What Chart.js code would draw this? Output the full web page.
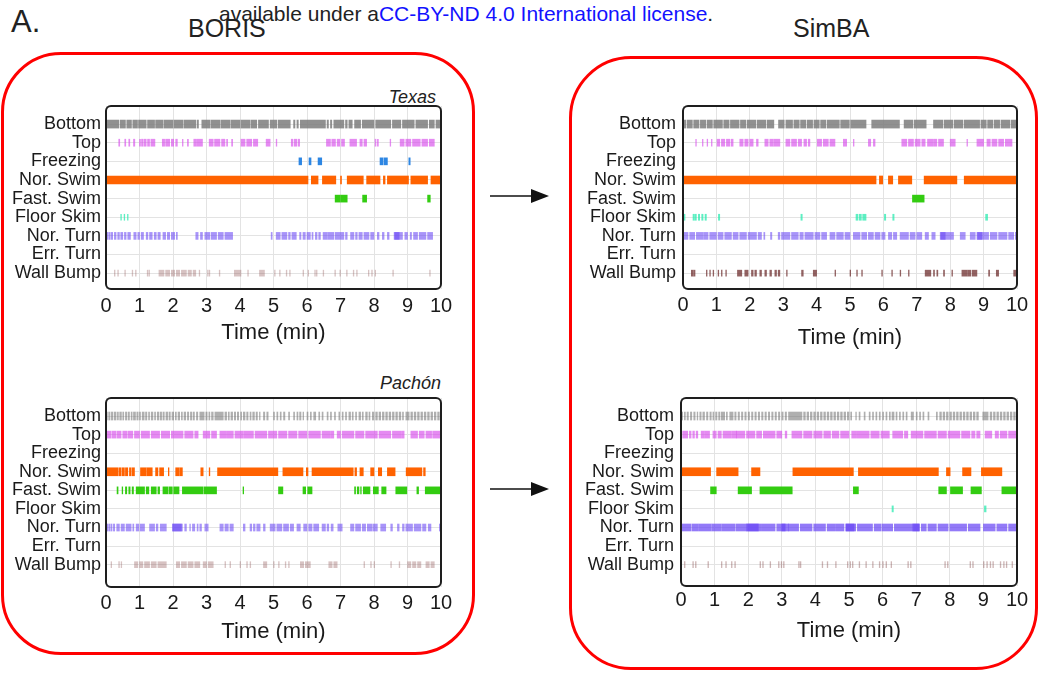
<!DOCTYPE html>
<html lang="en">
<head>
<meta charset="UTF-8">
<title>BORIS vs SimBA ethograms</title>
<script src="https://cdn.jsdelivr.net/npm/chart.js"></script>
<style>
  body { margin: 0; background: #fff; font-family: "Liberation Sans", Arial, sans-serif; color: #222; }
  #page { position: relative; width: 1039px; height: 673px; overflow: hidden; }
  .txt { position: absolute; white-space: nowrap; line-height: 1; }
  .redbox { position: absolute; border: 3px solid #ff0000; box-sizing: border-box; }
  canvas, svg { position: absolute; }
</style>
</head>
<body>
<div id="page">
  <div class="redbox" style="left:1px; top:52px; width:474px; height:603px; border-radius:60px;"></div>
  <div class="redbox" style="left:569px; top:56px; width:469px; height:614px; border-radius:62px;"></div>

  <div class="txt" style="left:219px; top:3px; font-size:21px;">available under a<span style="color:#1212ff">CC-BY-ND 4.0 International license</span>.</div>
  <div class="txt" style="left:11px; top:6px; font-size:31px;">A.</div>
  <div class="txt" style="left:188px; top:16px; font-size:25px;">BORIS</div>
  <div class="txt" style="left:793px; top:16px; font-size:25px;">SimBA</div>
  <div class="txt" style="right:603px; top:88px; font-size:18px; font-style:italic;">Texas</div>
  <div class="txt" style="right:598px; top:374px; font-size:18px; font-style:italic;">Pachón</div>

  <svg width="1039" height="673" style="left:0; top:0;">
    <line x1="490" y1="196" x2="534" y2="196" stroke="#111" stroke-width="1.6"/>
    <polygon points="531,189 549,196 531,203" fill="#111"/>
    <line x1="490" y1="489" x2="534" y2="489" stroke="#111" stroke-width="1.6"/>
    <polygon points="531,482 549,489 531,496" fill="#111"/>
  </svg>

  <canvas id="texBoris" width="470" height="258" style="left:0px; top:88px;"></canvas>
  <canvas id="texSimba" width="464" height="263" style="left:575px; top:88px;"></canvas>
  <canvas id="pacBoris" width="470" height="265" style="left:0px; top:380px;"></canvas>
  <canvas id="pacSimba" width="464" height="264" style="left:575px; top:380px;"></canvas>
</div>

<script>
// behaviours, top to bottom
const rowLabels = ['Bottom', 'Top', 'Freezing', 'Nor. Swim', 'Fast. Swim', 'Floor Skim', 'Nor. Turn', 'Err. Turn', 'Wall Bump'];

// ---- Texas, BORIS (minutes: [start, end]) ----
const texBorisBottom = [[0,0.38],[0.42,0.58],[0.62,0.76],[0.8,0.94],[0.97,1.2],[1.24,1.45],[1.48,1.7],[1.73,2.0],[2.03,2.3],[2.33,2.68],[2.72,2.76],[2.86,3.1],[3.13,3.4],[3.43,3.7],[3.73,4.0],[4.03,4.3],[4.33,4.5],[4.55,4.85],[4.9,5.1],[5.14,5.5],[5.6,5.64],[5.7,5.74],[5.8,6.55],[6.6,6.64],[6.7,6.74],[6.8,7.1],[7.15,7.2],[7.25,7.35],[7.42,7.6],[7.65,8.0],[8.05,8.5],[8.55,8.8],[8.85,9.2],[9.25,9.6],[9.65,9.8],[9.85,10]];
const texBorisTop = [[0.38,0.41],[0.56,0.59],[0.68,0.71],[0.82,0.86],[1.0,1.03],[1.06,1.1],[1.13,1.2],[1.24,1.3],[1.34,1.46],[1.68,1.75],[1.78,1.9],[1.95,2.02],[2.08,2.13],[2.28,2.3],[2.43,2.46],[2.62,2.68],[2.7,2.88],[3.08,3.2],[3.24,3.4],[3.45,3.55],[3.6,3.63],[3.75,3.78],[4.03,4.15],[4.2,4.35],[4.4,4.53],[4.78,4.9],[5.08,5.1],[5.53,5.58],[5.62,5.7],[5.74,5.78],[6.58,6.7],[6.74,6.85],[6.9,6.98],[7.03,7.12],[7.28,7.48],[7.58,7.65],[7.7,7.78],[8.03,8.06],[8.1,8.13],[8.48,8.5],[8.78,8.9],[8.95,9.1],[9.15,9.38],[9.43,9.6],[9.65,9.8]];
const texBorisFreezing = [[5.76,5.84],[6.06,6.12],[6.33,6.44],[8.18,8.27],[8.3,8.4],[9.04,9.08]];
const texBorisNorSwim = [[0,6.03],[6.13,6.33],[6.46,6.86],[7.0,7.03],[7.2,7.68],[7.78,8.18],[8.28,8.33],[8.4,9.03],[9.1,9.6],[9.7,10]];
const texBorisFastSwim = [[6.84,7.0],[7.02,7.2],[7.66,7.78],[9.6,9.68]];
const texBorisFloorSkim = [[0.44,0.46],[0.54,0.56],[0.64,0.66]];
const texBorisNorTurn = [[0.0,0.05],[0.08,0.12],[0.15,0.2],[0.25,0.3],[0.35,0.4],[0.44,0.5],[0.55,0.6],[0.65,0.73],[0.83,0.9],[0.95,1.0],[1.05,1.12],[1.2,1.25],[1.3,1.38],[1.44,1.5],[1.55,1.62],[1.7,1.78],[1.83,1.9],[1.95,2.05],[2.1,2.13],[2.68,2.75],[2.82,2.88],[2.95,3.1],[3.14,3.3],[3.35,3.5],[3.55,3.78],[4.93,4.96],[5.08,5.2],[5.25,5.4],[5.45,5.5],[5.55,5.68],[5.78,5.82],[5.88,5.95],[6.0,6.1],[6.15,6.18],[6.25,6.3],[6.35,6.4],[6.48,6.6],[6.62,6.8],[6.84,7.1],[7.15,7.2],[7.3,7.4],[7.45,7.5],[7.55,7.65],[7.7,7.85],[7.9,8.0],[8.1,8.15],[8.25,8.3],[8.4,8.45],[8.6,8.75],[8.62,8.85],[8.92,9.0],[9.08,9.12],[9.18,9.3],[9.35,9.55],[9.6,9.75]];
const texBorisErrTurn = [];
const texBorisWallBump = [[0.25,0.27],[0.35,0.37],[0.56,0.58],[0.78,0.8],[0.88,0.9],[1.23,1.25],[1.28,1.3],[1.58,1.73],[1.78,1.9],[1.95,2.05],[2.1,2.2],[2.25,2.4],[2.45,2.55],[2.6,2.68],[2.78,2.8],[3.03,3.05],[3.08,3.1],[3.38,3.4],[3.83,4.03],[4.23,4.25],[4.58,4.73],[5.03,5.05],[5.18,5.2],[5.38,5.4],[5.48,5.5],[5.88,5.9],[6.03,6.05],[6.23,6.25],[6.28,6.3],[6.48,6.5],[6.83,6.85],[6.98,7.0],[7.18,7.2],[7.38,7.4],[7.48,7.5],[7.83,7.85],[7.93,7.95],[8.03,8.05],[8.56,8.58],[9.66,9.68]];

// ---- Texas, SimBA ----
const texSimbaBottom = [[0,0.08],[0.12,0.28],[0.32,0.48],[0.52,0.68],[0.72,0.88],[0.92,1.18],[1.22,1.38],[1.42,1.68],[1.72,1.88],[1.92,2.18],[2.22,2.48],[2.52,2.72],[2.86,3.03],[3.08,3.28],[3.32,3.48],[3.52,3.68],[3.72,3.88],[3.92,4.08],[4.12,4.28],[4.32,4.68],[4.72,4.98],[5.02,5.48],[5.65,6.48],[6.62,6.88],[6.92,7.28],[7.5,7.78],[7.82,8.08],[8.12,8.38],[8.42,8.88],[8.92,9.08],[9.12,9.28],[9.32,9.48],[9.52,9.78],[9.82,10]];
const texSimbaTop = [[0.38,0.4],[0.58,0.6],[0.72,0.74],[0.85,0.87],[1.02,1.1],[1.15,1.25],[1.3,1.4],[1.44,1.5],[1.7,1.8],[1.85,1.95],[2.0,2.1],[2.2,2.25],[2.45,2.55],[2.6,2.7],[2.72,2.9],[3.08,3.2],[3.25,3.4],[3.45,3.55],[3.62,3.7],[3.75,3.8],[4.02,4.15],[4.2,4.35],[4.4,4.55],[4.8,4.9],[5.1,5.12],[5.55,5.62],[5.7,5.75],[6.55,6.7],[6.75,6.9],[6.95,7.1],[7.15,7.25],[7.32,7.5],[7.52,7.6],[7.65,7.8],[8.0,8.15],[8.5,8.52],[8.8,9.0],[9.1,9.2],[9.25,9.4],[9.45,9.6],[9.65,9.85]];
const texSimbaFreezing = [];
const texSimbaNorSwim = [[0,5.78],[5.88,5.98],[6.15,6.28],[6.45,6.85],[7.22,8.2],[8.42,10]];
const texSimbaFastSwim = [[6.87,7.22]];
const texSimbaFloorSkim = [[0.0,0.06],[0.3,0.34],[0.36,0.4],[0.46,0.5],[0.56,0.6],[0.66,0.7],[1.06,1.1],[3.53,3.57],[5.18,5.24],[5.28,5.34],[5.38,5.48],[6.03,6.07],[6.28,6.32],[9.06,9.12]];
const texSimbaNorTurn = [[0,0.15],[0.2,0.35],[0.4,0.6],[0.62,0.75],[0.8,1.0],[1.05,1.2],[1.25,1.45],[1.5,1.65],[1.7,1.9],[1.95,2.2],[2.25,2.35],[2.42,2.45],[2.62,2.66],[2.85,2.9],[2.95,3.2],[3.25,3.45],[3.5,3.6],[3.65,3.9],[3.95,4.1],[4.15,4.3],[4.4,4.55],[4.6,4.8],[4.85,5.0],[5.1,5.3],[5.35,5.5],[5.55,5.7],[5.75,5.9],[5.95,6.05],[6.15,6.25],[6.3,6.4],[6.5,6.75],[6.8,6.95],[7.0,7.15],[7.25,7.35],[7.45,7.55],[7.7,7.85],[7.72,8.1],[8.3,8.45],[8.6,8.75],[8.8,8.95],[8.82,9.15],[9.2,9.4],[9.45,9.7],[9.75,9.9],[9.95,10]];
const texSimbaErrTurn = [];
const texSimbaWallBump = [[0.25,0.3],[0.32,0.36],[0.7,0.72],[0.8,0.82],[0.9,0.92],[1.05,1.07],[1.15,1.17],[1.28,1.3],[1.63,1.76],[1.85,1.95],[2.05,2.1],[2.15,2.2],[2.3,2.35],[2.45,2.5],[2.6,2.65],[2.75,2.8],[2.85,2.9],[3.1,3.12],[3.55,3.6],[3.9,4.0],[4.55,4.57],[5.0,5.02],[5.2,5.22],[5.35,5.37],[5.95,5.97],[6.25,6.27],[6.5,6.52],[6.75,6.77],[7.25,7.42],[7.5,7.53],[7.6,7.63],[7.8,7.83],[8.05,8.07],[8.35,8.5],[8.52,8.62],[8.66,8.8],[9.15,9.18],[9.38,9.45],[9.9,10]];

// ---- Pachón, BORIS ----
const pacBorisBottom = [[0.0,0.04],[0.08,0.12],[0.16,0.2],[0.24,0.3],[0.34,0.37],[0.41,0.46],[0.5,0.53],[0.58,0.62],[0.66,0.7],[0.75,0.78],[0.82,0.88],[0.92,0.96],[1.0,1.03],[1.08,1.14],[1.18,1.22],[1.27,1.3],[1.35,1.4],[1.45,1.48],[1.53,1.58],[1.62,1.66],[1.7,1.74],[1.79,1.84],[1.88,1.92],[1.97,2.02],[2.07,2.1],[2.15,2.2],[2.25,2.28],[2.33,2.38],[2.43,2.47],[2.52,2.56],[2.6,2.64],[2.7,2.74],[2.8,2.93],[2.98,3.02],[3.07,3.1],[3.15,3.2],[3.25,3.5],[3.55,3.6],[3.65,3.68],[3.73,3.78],[3.83,3.87],[3.92,3.96],[4.02,4.05],[4.1,4.15],[4.2,4.24],[4.3,4.33],[4.38,4.43],[4.48,4.52],[4.58,4.6],[4.7,4.74],[4.8,4.84],[5.0,5.03],[5.1,5.13],[5.2,5.23],[5.3,5.34],[5.45,5.48],[5.6,5.63],[5.7,5.73],[5.78,5.82],[5.88,5.9],[6.0,6.03],[6.1,6.13],[6.2,6.26],[6.35,6.38],[6.45,6.48],[6.6,6.63],[6.7,6.73],[6.82,6.85],[6.95,6.98],[7.05,7.08],[7.15,7.18],[7.25,7.3],[7.35,7.38],[7.45,7.48],[7.55,7.6],[7.65,7.68],[7.75,7.8],[7.85,7.88],[7.95,8.0],[8.05,8.1],[8.15,8.2],[8.25,8.3],[8.35,8.4],[8.45,8.5],[8.55,8.6],[8.65,8.7],[8.75,8.8],[8.85,8.88],[8.95,9.05],[9.1,9.15],[9.2,9.25],[9.3,9.35],[9.4,9.45],[9.5,9.55],[9.6,9.65],[9.7,9.75],[9.8,9.85],[9.9,9.95]];
const pacBorisTop = [[0,0.15],[0.18,0.3],[0.33,0.45],[0.5,0.62],[0.65,0.8],[0.85,1.0],[1.05,1.3],[1.35,1.6],[1.65,1.9],[1.95,2.3],[2.35,2.6],[2.65,2.75],[2.9,3.1],[3.15,3.3],[3.4,3.6],[3.62,3.8],[3.85,4.1],[4.12,4.4],[4.45,4.8],[4.85,5.1],[5.15,5.4],[5.45,5.7],[5.75,6.0],[6.05,6.4],[6.45,6.7],[6.72,6.8],[6.9,7.0],[7.05,7.4],[7.45,7.7],[7.75,8.1],[8.15,8.5],[8.55,8.8],[8.82,8.9],[9.1,9.3],[9.35,9.5],[9.55,9.72],[9.75,10]];
const pacBorisFreezing = [];
const pacBorisNorSwim = [[0,0.35],[0.38,0.45],[0.48,0.55],[0.58,0.65],[0.7,0.75],[0.78,0.85],[1.03,1.2],[1.22,1.38],[1.48,1.55],[1.6,1.72],[1.86,1.88],[2.08,2.18],[2.2,2.28],[2.83,2.9],[3.08,3.1],[3.33,5.13],[5.28,5.88],[5.98,6.03],[6.15,7.38],[7.43,7.48],[7.58,7.68],[7.9,8.0],[8.13,8.23],[8.4,8.63],[8.96,9.43],[9.48,9.53]];
const pacBorisFastSwim = [[0.33,0.36],[0.48,0.5],[0.58,0.62],[0.68,0.72],[0.78,0.82],[0.9,1.15],[1.2,1.28],[1.35,1.5],[1.55,1.6],[1.7,1.85],[1.88,1.98],[2.02,2.18],[2.28,2.9],[2.93,3.3],[4.09,4.11],[5.15,5.28],[5.88,5.96],[6.02,6.15],[7.42,7.45],[7.5,7.55],[7.6,7.62],[7.68,7.88],[7.98,8.13],[8.23,8.36],[8.65,8.98],[9.28,9.33],[9.53,10]];
const pacBorisFloorSkim = [];
const pacBorisNorTurn = [[0,0.05],[0.08,0.12],[0.15,0.18],[0.22,0.26],[0.32,0.4],[0.45,0.55],[0.6,0.75],[0.8,0.83],[0.9,0.98],[1.02,1.15],[1.3,1.45],[1.5,1.55],[1.62,1.8],[1.98,2.28],[2.0,2.25],[2.35,2.4],[2.5,2.52],[2.58,2.65],[2.72,2.75],[2.8,2.85],[2.95,3.05],[3.4,3.5],[3.55,3.65],[3.7,3.8],[4.1,4.15],[4.3,4.35],[4.4,4.45],[4.5,4.6],[4.7,4.75],[4.9,5.05],[5.1,5.25],[5.3,5.45],[5.5,5.6],[5.7,5.8],[5.9,6.0],[6.05,6.15],[6.2,6.35],[6.45,6.55],[6.6,6.65],[6.72,6.78],[6.92,7.05],[7.3,7.4],[7.45,7.6],[7.65,7.75],[7.8,7.95],[7.98,8.1],[8.2,8.35],[8.5,8.55],[8.7,8.75],[8.85,8.9],[8.95,9.15],[9.2,9.4],[9.45,9.55],[9.62,9.7],[9.95,10]];
const pacBorisErrTurn = [];
const pacBorisWallBump = [[0.15,0.17],[0.38,0.4],[0.45,0.47],[0.85,0.95],[1.0,1.1],[1.15,1.3],[1.35,1.5],[1.55,1.8],[2.1,2.2],[2.25,2.4],[2.45,2.6],[2.65,2.8],[2.9,3.0],[3.05,3.2],[3.55,3.57],[3.7,3.72],[4.0,4.02],[4.2,4.22],[4.3,4.32],[4.7,4.8],[5.0,5.02],[5.15,5.17],[5.35,5.37],[5.45,5.47],[5.8,5.9],[5.95,6.1],[6.65,6.75],[6.8,6.9],[7.7,7.72],[7.9,7.92],[8.0,8.02],[8.5,8.52],[8.75,8.77],[9.0,9.1],[9.15,9.25],[9.3,9.4],[9.55,9.65],[9.7,9.8]];

// ---- Pachón, SimBA ----
const pacSimbaBottom = [[0.0,0.05],[0.1,0.13],[0.18,0.22],[0.28,0.32],[0.38,0.42],[0.48,0.5],[0.56,0.6],[0.65,0.7],[0.76,0.8],[0.86,0.9],[0.95,0.98],[1.03,1.07],[1.12,1.16],[1.2,1.3],[1.35,1.38],[1.45,1.55],[1.6,1.64],[1.7,1.74],[1.8,1.84],[1.9,1.94],[2.0,2.04],[2.1,2.14],[2.2,2.24],[2.3,2.34],[2.4,2.44],[2.5,2.54],[2.6,2.64],[2.7,2.74],[2.8,2.84],[2.9,2.94],[3.0,3.04],[3.1,3.14],[3.2,3.6],[3.65,3.7],[3.75,3.8],[3.85,3.9],[3.95,4.0],[4.05,4.1],[4.15,4.2],[4.25,4.3],[4.35,4.4],[4.45,4.5],[4.55,4.6],[4.65,4.7],[4.75,4.8],[4.85,4.9],[4.95,5.0],[5.05,5.08],[5.2,5.22],[5.3,5.33],[5.45,5.48],[5.6,5.63],[5.7,5.73],[5.8,5.83],[5.9,5.93],[6.0,6.03],[6.1,6.13],[6.2,6.23],[6.28,6.34],[6.4,6.43],[6.5,6.53],[6.6,6.63],[6.7,6.73],[6.85,6.92],[7.0,7.03],[7.1,7.13],[7.2,7.23],[7.35,7.38],[7.6,7.63],[7.7,7.75],[7.8,7.85],[7.9,7.95],[8.0,8.05],[8.1,8.15],[8.2,8.25],[8.3,8.35],[8.4,8.45],[8.5,8.55],[8.6,8.65],[8.7,8.75],[8.8,8.85],[8.98,9.14],[9.2,9.25],[9.3,9.35],[9.4,9.45],[9.5,9.55],[9.6,9.65],[9.7,9.75],[9.8,9.85],[9.9,9.95]];
const pacSimbaTop = [[0.05,0.2],[0.25,0.3],[0.35,0.4],[0.45,0.5],[0.6,0.7],[0.72,0.85],[0.95,1.05],[1.1,1.2],[1.25,1.5],[1.52,1.65],[1.65,1.9],[1.95,2.2],[2.25,2.4],[2.45,2.8],[2.85,3.0],[3.1,3.15],[3.3,3.6],[3.65,3.9],[3.95,4.2],[4.25,4.45],[4.5,4.7],[4.75,5.0],[5.08,5.2],[5.22,5.6],[5.65,5.9],[5.95,6.2],[6.3,6.6],[6.65,6.75],[6.85,7.2],[7.25,7.6],[7.65,7.9],[7.95,8.3],[8.35,8.6],[8.65,8.75],[8.8,8.9],[9.05,9.25],[9.35,9.45],[9.5,9.7],[9.75,10]];
const pacSimbaFreezing = [];
const pacSimbaNorSwim = [[0,0.88],[1.06,1.7],[2.1,2.35],[3.33,5.13],[5.28,7.66],[7.9,8.01],[8.38,8.63],[8.94,9.55]];
const pacSimbaFastSwim = [[0.88,1.05],[1.7,2.1],[2.35,3.31],[5.13,5.28],[7.67,7.9],[8.02,8.38],[8.63,8.94],[9.55,10]];
const pacSimbaFloorSkim = [[6.28,6.32],[9.03,9.08]];
const pacSimbaNorTurn = [[0,0.3],[0.33,0.5],[0.52,0.9],[0.92,1.2],[1.22,1.6],[1.63,1.95],[1.95,2.4],[1.98,2.3],[2.42,2.8],[2.85,3.1],[3.0,3.2],[3.2,3.5],[3.55,3.9],[3.95,4.3],[4.35,4.6],[4.62,4.85],[4.9,5.2],[4.92,5.15],[5.25,5.7],[5.75,5.95],[5.98,6.3],[6.35,6.9],[6.9,7.1],[6.92,7.08],[7.15,7.3],[7.35,7.6],[7.65,7.95],[8.0,8.5],[8.55,8.9],[9.0,9.35],[9.4,9.7],[9.75,10]];
const pacSimbaErrTurn = [];
const pacSimbaWallBump = [[0.1,0.12],[0.35,0.37],[0.43,0.45],[0.8,0.82],[1.2,1.22],[1.33,1.35],[1.5,1.52],[1.6,1.62],[2.35,2.37],[2.43,2.45],[2.65,2.67],[2.9,2.92],[2.98,3.0],[3.05,3.07],[3.5,3.52],[3.55,3.57],[4.2,4.22],[4.35,4.37],[4.6,4.62],[4.95,4.97],[5.03,5.05],[5.1,5.12],[5.3,5.32],[5.5,5.52],[5.7,5.72],[5.9,5.92],[6.0,6.02],[6.1,6.12],[6.25,6.27],[6.75,6.77],[6.83,6.85],[7.85,7.87],[7.93,7.95],[8.6,8.62],[8.68,8.7],[9.0,9.02],[9.1,9.12],[9.2,9.22],[9.28,9.3],[9.5,9.52],[9.6,9.62],[9.68,9.7],[9.85,9.87]];

const rowColors = ['rgba(125,125,125,0.85)', 'rgba(215,75,235,0.65)', '#2d86e3', '#ff6200', '#33cc11', 'rgba(40,235,175,0.75)', 'rgba(105,70,245,0.58)', '#888888', 'rgba(140,80,80,0.35)'];
const rowThickness = [8, 7, 7, 8, 7, 6, 7, 6, 6];

Chart.defaults.font.family = '"Liberation Sans", Arial, sans-serif';
Chart.defaults.color = '#1a1a1a';

// rounded black frame round the plot area
const framePlugin = {
  id: 'frame',
  afterDraw(chart) {
    const { ctx, chartArea: a } = chart;
    ctx.save();
    ctx.strokeStyle = '#1e1e1e';
    ctx.lineWidth = 2;
    ctx.beginPath();
    ctx.roundRect(a.left, a.top, a.right - a.left, a.bottom - a.top, 5);
    ctx.stroke();
    ctx.restore();
  }
};

function panel(id, rows, opt) {
  const colors = opt.colors || {};
  const datasets = rows.map((intervals, r) => ({
    data: intervals.map(iv => ({ x: iv, y: r })),
    backgroundColor: colors[r] || rowColors[r],
    barThickness: rowThickness[r],
    grouped: false,
    borderWidth: 0,
    borderSkipped: false
  }));

  new Chart(document.getElementById(id), {
    type: 'bar',
    data: { datasets },
    options: {
      indexAxis: 'y',
      responsive: false,
      animation: false,
      // top padding is larger than the y label overhang so the plot top stays put
      layout: { padding: { top: 18, right: opt.padRight, left: 0, bottom: 0 } },
      plugins: { legend: { display: false }, tooltip: { enabled: false } },
      scales: {
        x: {
          type: 'linear', min: 0, max: 10,
          ticks: { stepSize: 1, padding: opt.tickPad, font: { size: 20 } },
          grid: { color: '#e3e3e3', drawTicks: false },
          border: { display: false },
          title: { display: true, text: 'Time (min)', font: { size: 22 }, padding: 0 },
          afterFit: s => { s.height = opt.axisH; }
        },
        y: {
          type: 'linear', min: -0.97, max: opt.yMax, reverse: true, offset: false,
          ticks: { autoSkip: false, padding: opt.labelPad, font: { size: 18 },
                   callback: v => rowLabels[v] },
          // one tick per behaviour row
          afterBuildTicks: s => { s.ticks = rowLabels.map((_, i) => ({ value: i })); },
          grid: { color: '#e3e3e3', drawTicks: false, offset: false },
          border: { display: false },
          afterFit: s => { s.width = opt.axisW; }
        }
      }
    },
    plugins: [framePlugin]
  });
}

panel('texBoris',
  [texBorisBottom, texBorisTop, texBorisFreezing, texBorisNorSwim, texBorisFastSwim, texBorisFloorSkim, texBorisNorTurn, texBorisErrTurn, texBorisWallBump],
  { axisW: 106, padRight: 29, axisH: 57, yMax: 8.85, tickPad: 5, labelPad: 5 });

panel('texSimba',
  [texSimbaBottom, texSimbaTop, texSimbaFreezing, texSimbaNorSwim, texSimbaFastSwim, texSimbaFloorSkim, texSimbaNorTurn, texSimbaErrTurn, texSimbaWallBump],
  { axisW: 108, padRight: 22, axisH: 62, yMax: 8.85, tickPad: 4, labelPad: 7,
    colors: { 8: 'rgba(110,45,45,0.75)' } });

panel('pacBoris',
  [pacBorisBottom, pacBorisTop, pacBorisFreezing, pacBorisNorSwim, pacBorisFastSwim, pacBorisFloorSkim, pacBorisNorTurn, pacBorisErrTurn, pacBorisWallBump],
  { axisW: 106, padRight: 29, axisH: 58, yMax: 9.2, tickPad: 4, labelPad: 5,
    colors: { 0: 'rgba(110,110,110,0.55)' } });

panel('pacSimba',
  [pacSimbaBottom, pacSimbaTop, pacSimbaFreezing, pacSimbaNorSwim, pacSimbaFastSwim, pacSimbaFloorSkim, pacSimbaNorTurn, pacSimbaErrTurn, pacSimbaWallBump],
  { axisW: 106, padRight: 22, axisH: 58, yMax: 9.15, tickPad: 2, labelPad: 7,
    colors: { 0: 'rgba(110,110,110,0.55)', 6: 'rgba(105,70,245,0.72)', 8: 'rgba(130,70,70,0.4)' } });
</script>
</body>
</html>
